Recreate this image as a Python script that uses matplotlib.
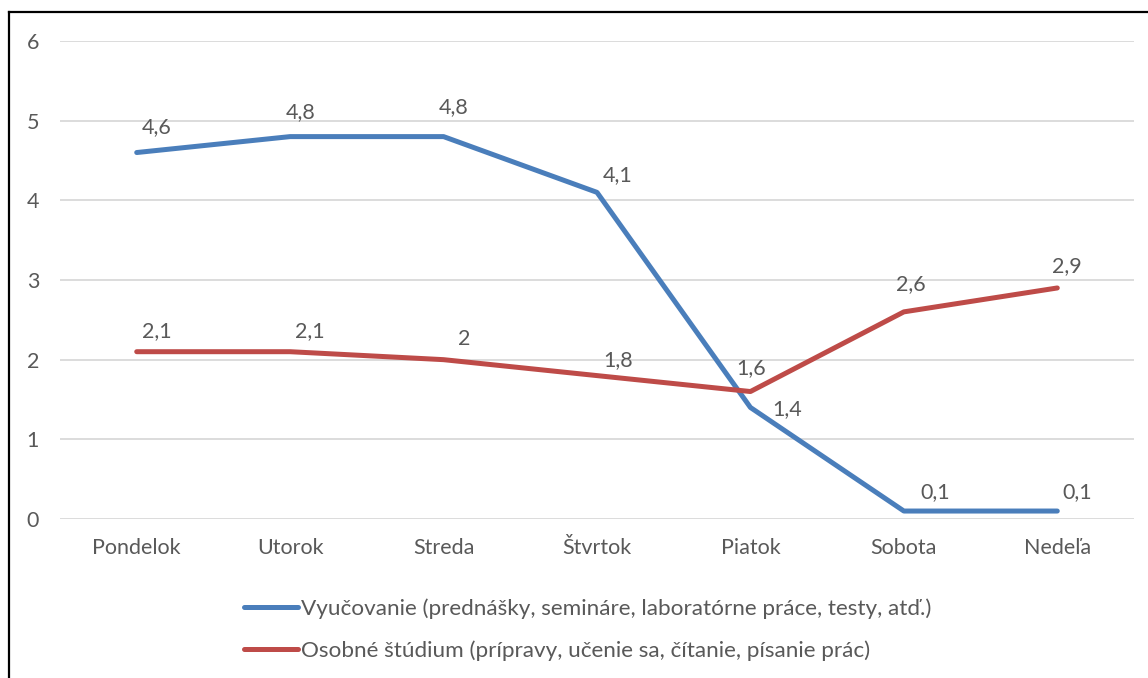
import matplotlib
matplotlib.use("Agg")
from matplotlib import pyplot as plt
from matplotlib.lines import Line2D
import numpy as np

plt.rcParams['font.family'] = ['Lato', 'DejaVu Sans']

# data
days = ["Pondelok", "Utorok", "Streda", "Štvrtok", "Piatok", "Sobota", "Nedeľa"]
vyucovanie = [4.6, 4.8, 4.8, 4.1, 1.4, 0.1, 0.1]
studium = [2.1, 2.1, 2.0, 1.8, 1.6, 2.6, 2.9]
label_vyuc = "Vyučovanie (prednášky, semináre, laboratórne práce, testy, atď.)"
label_stud = "Osobné štúdium (prípravy, učenie sa, čítanie, písanie prác)"

# label offsets in pixels (dx, dy), Excel placed them by hand-ish
off_vyuc = [(20, 25), (10, 25), (10, 30), (21, 17), (37, -2), (31, 19), (20, 19)]
off_stud = [(20, 21), (20, 21), (21, 21), (21, 16), (1, 23), (7, 28), (10, 22)]

blue = "#4A7EBB"
red = "#BE4B48"
txt = "#595959"
fs = 15.5

fig = plt.figure(figsize=(11.48, 6.78), dpi=100)
ax = fig.add_axes([60/1148, 159/678, 1074/1148, 478/678])

x = np.arange(len(days))
ax.plot(x, vyucovanie, color=blue, lw=3.6, solid_capstyle='round', solid_joinstyle='round',
        label=label_vyuc, zorder=3)
ax.plot(x, studium, color=red, lw=3.6, solid_capstyle='round', solid_joinstyle='round',
        label=label_stud, zorder=3)

def fmt(v):
    s = ('%.1f' % v).rstrip('0').rstrip('.')
    return s.replace('.', ',')

for series, offs in [(vyucovanie, off_vyuc), (studium, off_stud)]:
    for xi, v, (dx, dy) in zip(x, series, offs):
        ax.annotate(fmt(v), (xi, v), xytext=(dx, dy), textcoords='offset pixels',
                    ha='center', va='center', fontsize=fs, color=txt, zorder=4)

ax.set_xlim(-0.5, len(days) - 0.5)
ax.set_ylim(0, 6)
ax.set_yticks(range(0, 7))
ax.set_xticks(x)
ax.set_xticklabels(days)
ax.tick_params(length=0, labelsize=fs, colors=txt)
ax.tick_params(axis='y', pad=15)
ax.tick_params(axis='x', pad=14)
ax.grid(axis='y', color="#D9D9D9", lw=1.3, zorder=0)
for s in ax.spines.values():
    s.set_visible(False)

leg = fig.legend(loc='upper left', bbox_to_anchor=(224/1148, 1 - 578/678), frameon=False,
                 fontsize=16.2, handlelength=2.4, handletextpad=0.12, labelspacing=0.95,
                 labelcolor=txt)

# outer chart border (cut off at right and bottom)
fig.add_artist(Line2D([8.5/1148, 1.0], [1 - 11.5/678] * 2, color='black', lw=1.6,
                      transform=fig.transFigure))
fig.add_artist(Line2D([8.5/1148] * 2, [0, 1 - 11.5/678], color='black', lw=1.6,
                      transform=fig.transFigure))

plt.savefig("out.png", dpi=100)
